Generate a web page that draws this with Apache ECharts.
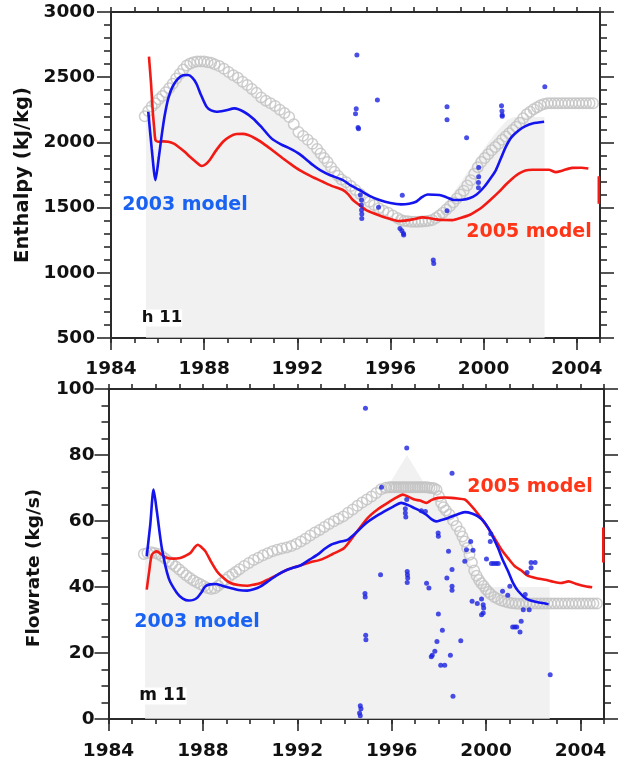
<!DOCTYPE html>
<html>
<head>
<meta charset="utf-8">
<script src="https://cdn.jsdelivr.net/npm/echarts@6/dist/echarts.min.js"></script>
<style>
html,body{margin:0;padding:0;background:#fff;}
#chart{width:620px;height:765px;}
</style>
</head>
<body>
<div id="chart"></div>
<script>
// ---------- Data ----------
const yearLabels = [1984, 1988, 1992, 1996, 2000, 2004];
const enthalpyTicks = [500, 1000, 1500, 2000, 2500, 3000];
const flowTicks = [0, 20, 40, 60, 80, 100];

// Top panel: enthalpy (kJ/kg)
const enthalpyModel2003 = [[1985.6,2235],[1985.75,1950],[1985.91,1711],[1986.05,1880],[1986.17,2044],[1986.3,2200],[1986.46,2338],[1986.65,2430],[1986.89,2491],[1987.1,2515],[1987.31,2517],[1987.5,2495],[1987.67,2450],[1987.85,2370],[1988.1,2274],[1988.3,2245],[1988.53,2235],[1988.9,2245],[1989.31,2261],[1989.7,2235],[1990.1,2184],[1990.5,2110],[1990.89,2031],[1991.3,1985],[1991.67,1954],[1992.1,1910],[1992.67,1826],[1993.0,1785],[1993.39,1750],[1993.96,1711],[1994.3,1670],[1994.67,1635],[1995.1,1590],[1995.53,1558],[1996.0,1535],[1996.46,1525],[1996.8,1530],[1997.1,1545],[1997.35,1580],[1997.6,1601],[1998.1,1596],[1998.4,1580],[1998.74,1558],[1999.1,1560],[1999.39,1571],[1999.7,1600],[2000.03,1660],[2000.3,1725],[2000.53,1788],[2000.75,1880],[2000.96,1967],[2001.2,2040],[2001.53,2095],[2001.8,2125],[2002.1,2145],[2002.6,2158]];
const enthalpyModel2005 = [[1985.63,2657],[1985.72,2450],[1985.79,2248],[1985.86,2100],[1985.91,2018],[1986.03,2005],[1986.25,2008],[1986.46,2005],[1986.7,1990],[1986.89,1967],[1987.15,1930],[1987.39,1890],[1987.65,1850],[1987.89,1819],[1988.05,1830],[1988.24,1865],[1988.5,1935],[1988.81,2005],[1989.1,2045],[1989.39,2064],[1989.65,2065],[1989.89,2056],[1990.2,2030],[1990.53,1993],[1991.0,1930],[1991.39,1877],[1991.75,1830],[1992.1,1788],[1992.6,1740],[1993.1,1698],[1993.5,1665],[1993.96,1635],[1994.2,1600],[1994.39,1558],[1994.7,1515],[1994.96,1481],[1995.3,1455],[1995.67,1430],[1996.0,1412],[1996.39,1397],[1996.7,1402],[1996.96,1410],[1997.39,1425],[1997.7,1418],[1997.96,1410],[1998.3,1405],[1998.67,1404],[1999.0,1420],[1999.39,1443],[1999.7,1475],[1999.96,1507],[2000.3,1560],[2000.67,1622],[2000.95,1675],[2001.24,1724],[2001.53,1762],[2001.8,1785],[2002.1,1790],[2002.4,1790],[2002.8,1790],[2003.1,1772],[2003.4,1785],[2003.8,1805],[2004.2,1806],[2004.5,1800]];
const enthalpyModel2005Edge = [[2004.95,1740],[2004.95,1530]];
const enthalpyPrevious = [[1985.45,2200],[1985.6,2240],[1985.75,2275],[1985.9,2300],[1986.05,2330],[1986.2,2355],[1986.35,2385],[1986.5,2415],[1986.65,2450],[1986.8,2490],[1986.95,2525],[1987.1,2560],[1987.25,2590],[1987.4,2605],[1987.55,2615],[1987.7,2620],[1987.85,2620],[1988.0,2620],[1988.15,2615],[1988.3,2610],[1988.45,2600],[1988.65,2585],[1988.85,2565],[1989.05,2540],[1989.25,2515],[1989.45,2495],[1989.65,2465],[1989.85,2440],[1990.05,2410],[1990.25,2380],[1990.45,2345],[1990.65,2320],[1990.85,2300],[1991.05,2280],[1991.25,2250],[1991.45,2225],[1991.65,2195],[1991.85,2140],[1992.05,2080],[1992.25,2050],[1992.45,2020],[1992.65,1990],[1992.85,1950],[1993.0,1915],[1993.15,1880],[1993.3,1850],[1993.45,1810],[1993.6,1775],[1993.75,1745],[1993.9,1715],[1994.1,1695],[1994.3,1665],[1994.5,1635],[1994.7,1605],[1994.9,1575],[1995.1,1545],[1995.3,1520],[1995.5,1495],[1995.7,1475],[1995.9,1460],[1996.1,1440],[1996.3,1420],[1996.45,1405],[1996.6,1398],[1996.75,1395],[1996.9,1392],[1997.05,1392],[1997.2,1392],[1997.35,1394],[1997.5,1396],[1997.65,1400],[1997.8,1405],[1997.95,1420],[1998.1,1440],[1998.25,1460],[1998.4,1485],[1998.55,1510],[1998.7,1540],[1998.85,1570],[1999.0,1600],[1999.15,1630],[1999.3,1670],[1999.45,1710],[1999.6,1760],[1999.75,1810],[1999.9,1850],[2000.05,1880],[2000.2,1910],[2000.35,1940],[2000.5,1965],[2000.65,1990],[2000.8,2020],[2000.95,2045],[2001.1,2070],[2001.25,2095],[2001.4,2120],[2001.55,2150],[2001.7,2185],[2001.85,2215],[2002.0,2235],[2002.15,2255],[2002.3,2270],[2002.45,2285],[2002.6,2295],[2002.75,2300],[2002.9,2300],[2003.05,2300],[2003.2,2300],[2003.35,2300],[2003.5,2300],[2003.65,2300],[2003.8,2300],[2003.95,2300],[2004.1,2300],[2004.25,2300],[2004.4,2300],[2004.55,2300],[2004.7,2300]];
const enthalpyEnvelope = [[1985.5,2190],[1986.0,2290],[1986.5,2400],[1987.0,2520],[1987.4,2570],[1988.0,2575],[1988.6,2550],[1989.4,2470],[1990.0,2390],[1990.6,2300],[1991.4,2200],[1992.0,2040],[1992.8,1920],[1993.5,1770],[1994.2,1650],[1995.0,1530],[1995.8,1450],[1996.5,1390],[1997.5,1380],[1998.0,1420],[1998.5,1560],[1999.0,1690],[1999.5,1820],[2000.0,1950],[2000.5,2070],[2001.0,2170],[2001.3,2195],[2002.62,2195]];
const enthalpyMeasured = [[1994.56,2670],[1995.44,2325],[1994.53,2258],[1994.5,2220],[1994.61,2115],[1994.63,2105],[1998.43,2274],[1998.43,2174],[1999.27,2036],[2000.77,2281],[2000.79,2240],[2000.8,2210],[2000.8,2200],[1999.79,1808],[1999.79,1737],[1999.78,1693],[1999.78,1652],[1996.51,1594],[1994.71,1596],[1994.76,1558],[1994.75,1519],[1994.76,1481],[1994.77,1450],[1994.77,1417],[1995.49,1502],[1996.41,1340],[1996.49,1323],[1996.56,1302],[1996.57,1290],[1997.84,1098],[1997.86,1072],[1998.43,1476],[2002.63,2427]];

// Bottom panel: flowrate (kg/s)
const flowModel2003 = [[1985.62,49.3],[1985.77,58.9],[1985.91,69.5],[1986.05,62.9],[1986.26,51.8],[1986.55,42.7],[1986.9,38.2],[1987.15,36.5],[1987.4,35.9],[1987.6,36.1],[1987.75,36.7],[1987.95,38.5],[1988.1,40.2],[1988.3,40.8],[1988.53,40.9],[1988.85,40.3],[1989.17,39.7],[1989.5,39.1],[1989.88,38.9],[1990.15,39.3],[1990.45,40.2],[1990.8,41.9],[1991.16,43.7],[1991.6,45.3],[1992.15,46.6],[1992.5,48.2],[1992.86,49.8],[1993.15,51.5],[1993.43,52.8],[1993.8,53.7],[1994.13,54.3],[1994.5,56.5],[1994.84,58.9],[1995.25,61.0],[1995.69,62.9],[1996.05,64.3],[1996.4,65.5],[1996.7,64.8],[1996.97,63.9],[1997.2,63.1],[1997.47,61.9],[1997.7,60.5],[1997.89,59.9],[1998.1,60.3],[1998.39,60.9],[1998.75,61.9],[1999.1,62.7],[1999.4,62.3],[1999.66,61.4],[1999.9,59.9],[2000.09,57.9],[2000.3,55.0],[2000.51,51.8],[2000.72,48.0],[2000.94,44.7],[2001.15,41.2],[2001.37,38.7],[2001.7,36.5],[2002.1,35.5],[2002.65,34.8]];
const flowModel2005 = [[1985.62,39.2],[1985.72,44.5],[1985.84,49.8],[1986.05,50.8],[1986.25,49.8],[1986.48,48.8],[1986.75,48.6],[1987.04,48.8],[1987.25,49.4],[1987.47,50.3],[1987.65,52.0],[1987.78,52.8],[1987.95,52.0],[1988.11,50.8],[1988.35,47.6],[1988.6,44.7],[1988.9,42.6],[1989.17,41.2],[1989.5,40.6],[1989.88,40.4],[1990.15,40.7],[1990.45,41.2],[1990.8,42.4],[1991.16,43.7],[1991.6,45.3],[1992.15,46.6],[1992.55,47.5],[1993.0,48.3],[1993.5,50.0],[1993.99,51.8],[1994.5,56.5],[1994.98,60.9],[1995.4,63.5],[1995.83,65.5],[1996.15,66.9],[1996.47,68.0],[1996.7,67.4],[1996.97,66.5],[1997.2,66.2],[1997.47,65.5],[1997.7,66.4],[1997.97,67.0],[1998.25,67.1],[1998.53,67.0],[1998.8,66.8],[1999.1,66.5],[1999.3,65.2],[1999.52,63.4],[1999.8,60.8],[2000.09,57.9],[2000.38,54.6],[2000.66,51.3],[2000.95,48.6],[2001.22,46.3],[2001.5,45.0],[2001.75,43.5],[2002.1,42.7],[2002.5,42.2],[2002.85,41.6],[2003.17,41.2],[2003.5,41.7],[2003.8,41.0],[2004.1,40.4],[2004.5,39.9]];
const flowModel2005Edge = [[2004.97,58],[2004.97,47.4]];
const flowPrevious = [[1985.5,50],[1985.65,50.3],[1985.8,50.5],[1985.95,50.3],[1986.1,50],[1986.25,49.4],[1986.4,48.6],[1986.55,47.8],[1986.7,47],[1986.85,46.2],[1987.0,45.3],[1987.15,44.4],[1987.3,43.5],[1987.45,42.7],[1987.6,42],[1987.75,41.4],[1987.9,40.8],[1988.05,40.2],[1988.2,39.7],[1988.35,39.4],[1988.5,39.6],[1988.65,40.4],[1988.8,41.2],[1988.95,42.2],[1989.1,43.1],[1989.25,43.9],[1989.4,44.6],[1989.55,45.4],[1989.75,46.4],[1989.95,47.3],[1990.15,48.2],[1990.35,48.9],[1990.55,49.6],[1990.75,50.2],[1990.95,50.8],[1991.15,51.3],[1991.35,51.7],[1991.55,52.0],[1991.75,52.4],[1991.95,53.0],[1992.15,53.8],[1992.35,54.6],[1992.55,55.6],[1992.75,56.5],[1992.95,57.3],[1993.15,58.2],[1993.35,59.1],[1993.55,59.9],[1993.75,60.7],[1993.95,61.4],[1994.15,62.5],[1994.35,63.5],[1994.55,64.6],[1994.75,65.6],[1994.95,66.5],[1995.15,67.4],[1995.35,68.5],[1995.55,69.6],[1995.75,70.1],[1995.9,70.2],[1996.0,70.2],[1996.1,70.2],[1996.2,70.2],[1996.3,70.2],[1996.4,70.2],[1996.5,70.2],[1996.6,70.2],[1996.7,70.2],[1996.8,70.2],[1996.9,70.2],[1997.0,70.2],[1997.1,70.2],[1997.2,70.2],[1997.3,70.2],[1997.4,70.2],[1997.5,70.2],[1997.6,70.1],[1997.7,70.0],[1997.8,69.9],[1997.9,69.5],[1998.0,67.5],[1998.1,65.5],[1998.2,64.2],[1998.3,63.2],[1998.45,62],[1998.6,60.2],[1998.75,58.5],[1998.9,56.8],[1999.0,55.3],[1999.1,53.8],[1999.2,51.8],[1999.3,49.8],[1999.4,47.4],[1999.5,45],[1999.6,43.4],[1999.7,42.1],[1999.8,41.1],[1999.9,40.3],[2000.0,39.3],[2000.1,38.5],[2000.2,37.8],[2000.35,37.0],[2000.5,36.4],[2000.65,35.9],[2000.8,35.6],[2000.95,35.3],[2001.1,35.1],[2001.25,35.0],[2001.4,34.9],[2001.55,35],[2001.7,35],[2001.85,35],[2002.0,35],[2002.15,35],[2002.3,35],[2002.45,35],[2002.6,35],[2002.75,35],[2002.9,35],[2003.05,35],[2003.2,35],[2003.35,35],[2003.5,35],[2003.65,35],[2003.8,35],[2003.95,35],[2004.1,35],[2004.25,35],[2004.4,35],[2004.55,35],[2004.7,35]];
const flowEnvelope = [[1985.55,49],[1986.0,49.5],[1986.6,46.5],[1987.2,43],[1987.8,40],[1988.3,38.5],[1988.9,40.5],[1989.5,43.5],[1990.2,47],[1991.0,50],[1992.0,52],[1993.0,56.5],[1994.0,60.5],[1995.0,65.5],[1995.8,70],[1996.65,80],[1997.5,70],[1998.0,65],[1998.5,60],[1999.0,54],[1999.4,46],[1999.8,41],[2000.3,40],[2002.7,40]];
const flowMeasured = [[1994.89,94.2],[1996.64,82.1],[1998.56,74.5],[1995.57,70.2],[1996.64,66.5],[1996.58,63.7],[1996.58,62.4],[1996.6,61.2],[1997.26,63.1],[1997.43,62.9],[1997.97,56.4],[1997.98,55.4],[1998.41,50.8],[1998.56,45.3],[1998.34,42.7],[1998.56,40.2],[1998.56,39.0],[1996.66,44.7],[1996.67,43.7],[1996.68,42.7],[1996.66,41.4],[1995.53,43.7],[1994.87,38],[1994.88,37],[1994.9,25.4],[1994.91,24.0],[1997.48,41.1],[1997.58,39.7],[1997.98,31.8],[1998.15,26.9],[1997.92,23.5],[1998.93,23.7],[1997.83,20.5],[1997.72,19.3],[1997.68,18.9],[1998.08,16.3],[1998.25,16.3],[1998.49,19.3],[1998.6,6.9],[1994.67,4.0],[1994.7,3.1],[1994.64,1.8],[1994.67,1.0],[1999.35,53.8],[1999.45,51.1],[1999.17,51.3],[1999.1,47.8],[2000.18,53.8],[2000.2,56.1],[2000.02,48.5],[2000.23,47.1],[2000.33,47.1],[2000.43,47.1],[2000.52,47.1],[1999.41,35.7],[1999.63,35.0],[1999.81,36.4],[1999.88,34.6],[1999.9,33.6],[1999.81,31.6],[1999.88,32.1],[2000.7,38.7],[2001.01,40.2],[2000.92,37.5],[2001.13,27.9],[2001.22,27.9],[2001.3,27.9],[2001.44,26.4],[2001.49,29.6],[2001.58,33.1],[2001.83,33.1],[2001.66,37.7],[2001.74,44.4],[2001.91,45.8],[2001.91,47.4],[2002.08,47.4],[2002.72,13.4]];

// ---------- Styling ----------
const FONT = 'DejaVu Sans';
const AX = '#2a2a2a';
const BLUE_LINE = '#1414ee';
const RED_LINE = '#f21a14';
const BLUE_TEXT = '#1a62f2';
const RED_TEXT = '#ff3517';
const DOT = '#1a22e0';
const RING = '#c2c2c2';
const FILL = '#ebebeb';

const lblFmt = v => String(v);
const tickLbl = (margin) => ({show:true, margin:margin, fontSize:18.5, fontWeight:'bold', fontFamily:FONT, color:'#111', formatter:lblFmt});
const axLine = () => ({show:true, onZero:false, lineStyle:{color:AX, width:2}});
const tick = (len) => ({show:true, length:len, lineStyle:{color:AX, width:1.6}});
function mainX(grid, margin){ return {gridIndex:grid, type:'value', position:'bottom', min:1984, max:2005, interval:4, axisLine:axLine(), axisTick:tick(12), axisLabel:Object.assign(tickLbl(margin), {showMaxLabel:false}), splitLine:{show:false}}; }
function yearTicksX(grid, pos, withLine){ return {gridIndex:grid, type:'value', position:pos, min:1984, max:2005, interval:1, axisLine:withLine ? axLine() : {show:false, onZero:false}, axisTick:tick(5), axisLabel:{show:false}, splitLine:{show:false}}; }
function yAx(grid, pos, min, max, interval, minorSplit, showLabel, margin, name, nameSize, nameGap, namePad){
  const ax = {gridIndex:grid, type:'value', position:pos, min:min, max:max, interval:interval, axisLine:axLine(), axisTick:tick(14), minorTick:{show:true, splitNumber:minorSplit, length:7, lineStyle:{color:AX, width:1.6}}, axisLabel:showLabel ? tickLbl(margin) : {show:false}, splitLine:{show:false}};
  if (name) {
    ax.name = name; ax.nameLocation = 'middle'; ax.nameRotate = 90; ax.nameGap = nameGap;
    ax.nameTextStyle = {fontSize:nameSize, fontWeight:'bold', fontFamily:FONT, color:'#111', padding:namePad};
  }
  return ax;
}
const gTop = {left:111, top:12, width:489, height:326};
const gBot = {left:108.5, top:389, width:495.5, height:330};
function envelope(xi, yi, data){ return {type:'line', xAxisIndex:xi, yAxisIndex:yi, data:data, showSymbol:false, lineStyle:{width:0}, areaStyle:{color:FILL, origin:'start'}, z:1}; }
function rings(xi, yi, data){ return {type:'scatter', xAxisIndex:xi, yAxisIndex:yi, data:data, symbol:'circle', symbolSize:10.5, itemStyle:{color:'rgba(255,255,255,0)', borderColor:RING, borderWidth:1.5}, z:2}; }
function model(xi, yi, data, color){ return {type:'line', xAxisIndex:xi, yAxisIndex:yi, data:data, showSymbol:false, smooth:0.25, lineStyle:{color:color, width:2.6}, z:3}; }
function dots(xi, yi, data){ return {type:'scatter', xAxisIndex:xi, yAxisIndex:yi, data:data, symbol:'circle', symbolSize:5, itemStyle:{color:DOT}, z:4}; }
function note(str, cx, cy, size, color, bg){
  const t = {text:str, left:cx, top:cy, textAlign:'center', textVerticalAlign:'middle', padding:0, itemGap:0,
    textStyle:{fontSize:size, fontWeight:'bold', fontFamily:FONT, color:color}};
  if (bg) { t.backgroundColor = '#ffffff'; }
  return t;
}

const option = {
  animation:false,
  backgroundColor:'#ffffff',
  title:[
    note('2003 model', 185, 205, 19, BLUE_TEXT),
    note('2005 model', 529, 232, 19, RED_TEXT),
    note('2005 model', 530, 487, 19, RED_TEXT),
    note('2003 model', 197, 622, 19, BLUE_TEXT),
    note('h 11', 162, 318, 16.5, '#111', true),
    note('m 11', 163, 696, 17, '#111', true)
  ],
  grid:[Object.assign({}, gTop), Object.assign({}, gBot), Object.assign({}, gTop), Object.assign({}, gBot)],
  xAxis:[mainX(0, 22), yearTicksX(0, 'top', true), mainX(1, 23), yearTicksX(1, 'top', true), yearTicksX(2, 'bottom', false), yearTicksX(3, 'bottom', false)],
  yAxis:[
    yAx(0, 'left', 500, 3000, 500, 5, true, 16, 'Enthalpy (kJ/kg)', 19.5, 76, [0,0,0,0]),
    yAx(0, 'right', 500, 3000, 500, 5, false, 0),
    yAx(1, 'left', 0, 100, 20, 4, true, 14, 'Flowrate (kg/s)', 18.5, 65, [0,28,0,0]),
    yAx(1, 'right', 0, 100, 20, 4, false, 0),
    {gridIndex:2, type:'value', min:500, max:3000, show:false},
    {gridIndex:3, type:'value', min:0, max:100, show:false}
  ],
  series:[
    envelope(0, 0, enthalpyEnvelope),
    rings(0, 0, enthalpyPrevious),
    model(0, 0, enthalpyModel2005, RED_LINE),
    model(0, 0, enthalpyModel2005Edge, RED_LINE),
    model(0, 0, enthalpyModel2003, BLUE_LINE),
    dots(0, 0, enthalpyMeasured),
    envelope(2, 2, flowEnvelope),
    rings(2, 2, flowPrevious),
    model(2, 2, flowModel2005, RED_LINE),
    model(2, 2, flowModel2005Edge, RED_LINE),
    model(2, 2, flowModel2003, BLUE_LINE),
    dots(2, 2, flowMeasured)
  ]
};

const chart = echarts.init(document.getElementById('chart'), null, {renderer:'canvas'});
chart.setOption(option);
</script>
</body>
</html>
